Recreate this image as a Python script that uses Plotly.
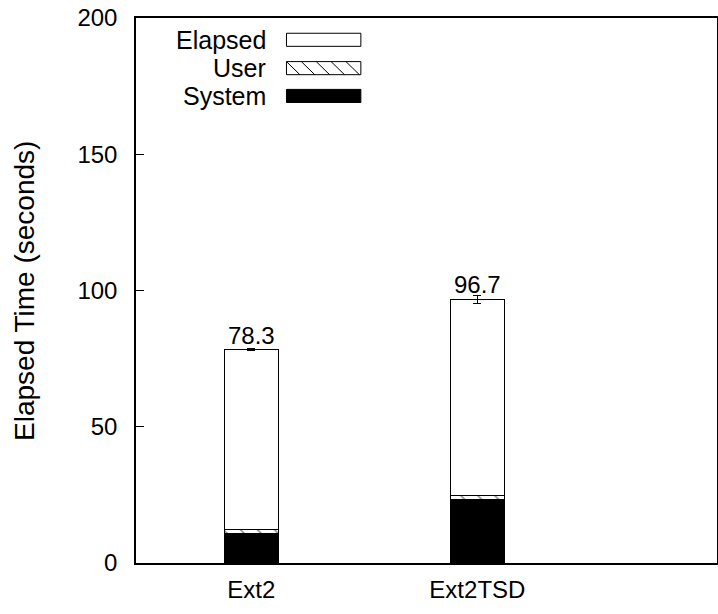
import plotly.graph_objects as go

categories = ["Ext2", "Ext2TSD"]
system_vals = [10.9, 23.3]
user_vals = [1.3, 1.5]
elapsed_totals = [78.3, 96.7]
elapsed_err = [0.3, 1.6]
total_labels = ["78.3", "96.7"]
y_ticks = [0, 50, 100, 150, 200]

xpos = list(range(len(categories)))
remainder = [t - s - u for t, s, u in zip(elapsed_totals, system_vals, user_vals)]

FONT = "Liberation Sans, Arial, Helvetica, sans-serif"
BW = 0.24

fig = go.Figure()
fig.add_trace(go.Bar(x=xpos, y=system_vals, width=BW, name="System",
                     marker=dict(color="black", line=dict(color="black", width=1)),
                     showlegend=False))
fig.add_trace(go.Bar(x=xpos, y=user_vals, width=BW, name="User",
                     marker=dict(color="white", line=dict(color="black", width=1),
                                 pattern=dict(shape="\\", fgcolor="black", bgcolor="white",
                                              size=12, solidity=0.12)),
                     showlegend=False))
fig.add_trace(go.Bar(x=xpos, y=remainder, width=BW, name="Elapsed",
                     marker=dict(color="white", line=dict(color="black", width=1)),
                     error_y=dict(type="data", array=elapsed_err, visible=True,
                                  color="black", thickness=1, width=4),
                     showlegend=False))
fig.add_trace(go.Scatter(x=xpos, y=elapsed_totals, mode="text", text=total_labels,
                         textposition="top center",
                         textfont=dict(family=FONT, size=24, color="black"),
                         showlegend=False, hoverinfo="skip"))

# Manual legend (text left, sample right)
legend_items = ["Elapsed", "User", "System"]
ly = [0.960, 0.908, 0.857]
x0s, x1s = 0.259, 0.387
for name, yy in zip(legend_items, ly):
    fig.add_annotation(xref="paper", yref="paper", x=0.2265, y=yy, text=name,
                       showarrow=False, xanchor="right", yanchor="middle",
                       font=dict(family=FONT, size=25, color="black"))
h = 0.012
fig.add_shape(type="rect", xref="paper", yref="paper", x0=x0s, x1=x1s,
              y0=ly[0] - h, y1=ly[0] + h, line=dict(color="black", width=1),
              fillcolor="white")
fig.add_shape(type="rect", xref="paper", yref="paper", x0=x0s, x1=x1s,
              y0=ly[2] - h, y1=ly[2] + h, line=dict(color="black", width=1),
              fillcolor="black")
fig.add_shape(type="rect", xref="paper", yref="paper", x0=x0s, x1=x1s,
              y0=ly[1] - h, y1=ly[1] + h, line=dict(color="black", width=1),
              fillcolor="white")
nh = 5
step = (x1s - x0s) / nh
for i in range(nh):
    xa = x0s + i * step
    xb = min(xa + step * 0.9, x1s)
    fig.add_shape(type="line", xref="paper", yref="paper", x0=xa, x1=xb,
                  y0=ly[1] + h, y1=ly[1] - h, line=dict(color="black", width=1))

# Y-axis title as rotated annotation
fig.add_annotation(xref="paper", yref="paper", x=-0.192, y=0.5,
                   text="Elapsed Time (seconds)", textangle=-90, showarrow=False,
                   xanchor="center", yanchor="middle",
                   font=dict(family=FONT, size=28, color="black"))

fig.update_layout(
    width=718, height=614,
    margin=dict(l=136, r=1, t=18, b=51, autoexpand=False),
    barmode="stack",
    plot_bgcolor="white", paper_bgcolor="white",
    font=dict(family=FONT, size=24, color="black"),
    showlegend=False,
)
fig.update_xaxes(range=[-0.51, 2.06], tickvals=xpos, ticktext=categories,
                 showgrid=False, zeroline=False, showline=True, mirror=True,
                 linecolor="black", linewidth=1.5, ticks="",
                 ticklabelstandoff=4,
                 tickfont=dict(family=FONT, size=24))
fig.update_yaxes(range=[0, 200], tickvals=y_ticks, showgrid=False, zeroline=False,
                 showline=True, mirror=True, linecolor="black", linewidth=1.5,
                 ticks="inside", ticklen=8, tickcolor="black", tickwidth=1,
                 ticklabelstandoff=12, ticklabeloverflow="allow",
                 tickfont=dict(family=FONT, size=24))

fig.write_html("out.html", config={"displayModeBar": False},
               post_script="document.body.style.margin='0';document.body.style.overflow='hidden';")
